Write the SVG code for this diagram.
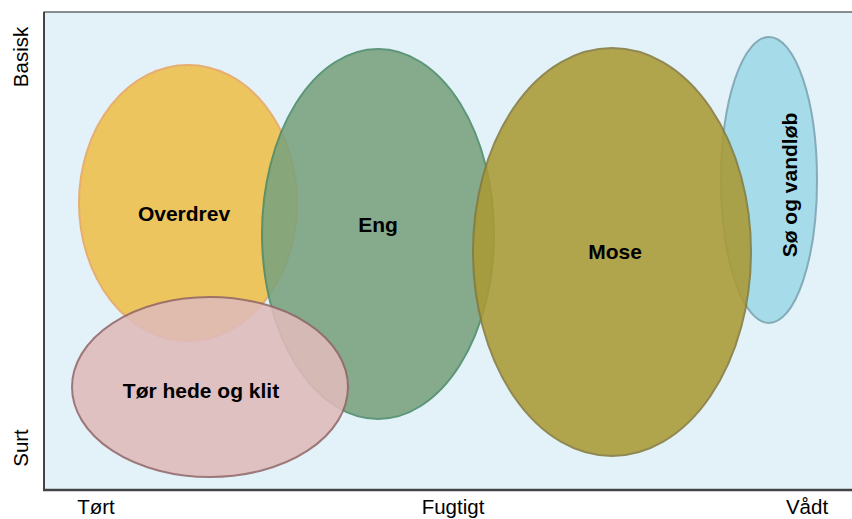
<svg xmlns="http://www.w3.org/2000/svg" width="852" height="519" viewBox="0 0 852 519">
<style>
.lbl{font-family:"Liberation Sans",Arial,sans-serif;font-size:21px;font-weight:bold;fill:#000;text-anchor:middle}
.ax{font-family:"Liberation Sans",Arial,sans-serif;font-size:20.5px;fill:#000;text-anchor:middle}
.el{stroke-width:2;opacity:0.88}
</style>
<rect x="0" y="0" width="852" height="519" fill="#ffffff"/>
<rect x="44" y="12" width="820" height="478" fill="#e3f2f8" stroke="#222" stroke-width="1"/>
<line x1="44" y1="12" x2="44" y2="491" stroke="#444" stroke-width="2"/>
<line x1="43" y1="490" x2="852" y2="490" stroke="#444" stroke-width="2.5"/>
<g id="overdrev">
<ellipse class="el" cx="188" cy="203" rx="109" ry="138" fill="#efbf4a" stroke="#e8a560"/>
<text class="lbl" x="184" y="221">Overdrev</text>
</g>
<g id="eng">
<ellipse class="el" cx="378" cy="234" rx="116" ry="185" fill="#7aa27e" stroke="#4b8a68"/>
<text class="lbl" x="378" y="232">Eng</text>
</g>
<g id="soe">
<ellipse class="el" cx="769" cy="180" rx="48" ry="143" fill="#9ed8e8" stroke="#78a2b0"/>
<text class="lbl" transform="translate(797,185) rotate(-90)">Sø og vandløb</text>
</g>
<g id="mose">
<ellipse class="el" cx="612" cy="252" rx="139" ry="204" fill="#aa9a35" stroke="#857a3c"/>
<text class="lbl" x="615" y="259">Mose</text>
</g>
<g id="toerhede">
<ellipse class="el" cx="210" cy="387" rx="138" ry="90" fill="#dfbbbb" stroke="#93686a"/>
<text class="lbl" x="201" y="398">Tør hede og klit</text>
</g>
<g id="axes">
<text class="ax" transform="translate(28,57) rotate(-90)">Basisk</text>
<text class="ax" transform="translate(28,448) rotate(-90)">Surt</text>
<text class="ax" x="96" y="514">Tørt</text>
<text class="ax" x="453" y="514">Fugtigt</text>
<text class="ax" x="807" y="514">Vådt</text>
</g>
<g id="connectors"></g>
</svg>
